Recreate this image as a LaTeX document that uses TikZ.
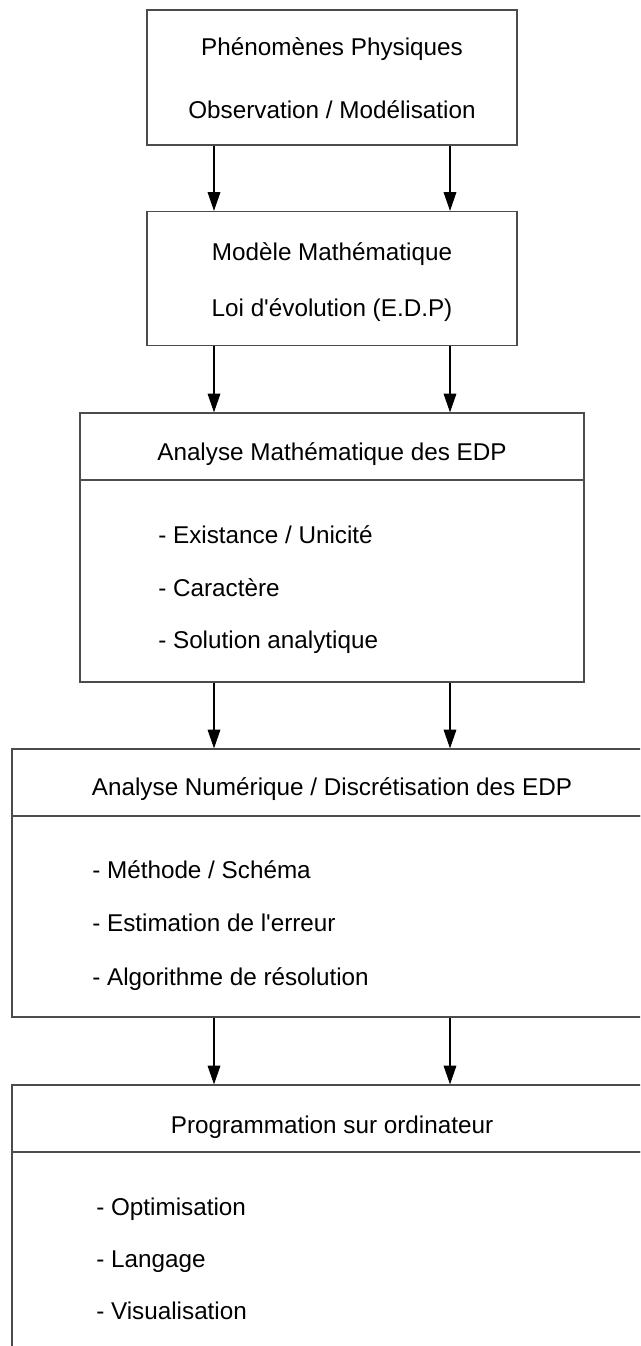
\documentclass[tikz,border=0pt]{standalone}
\usepackage{fontspec}
\setmainfont{Liberation Sans}
\usetikzlibrary{arrows.meta}

\begin{document}
\begin{tikzpicture}[x=0.75pt,y=-0.75pt,
	box/.style={rectangle,draw=black!70,line width=1pt,inner sep=0pt},
	txt/.style={font=\fontsize{18.2}{22}\selectfont,inner sep=0pt},
	flow/.style={-{Triangle[length=14pt,width=9.5pt]},line width=0.8pt}]
	\useasboundingbox (0,0) rectangle (640,1346);
	\clip (0,0) rectangle (640,1346);
	\node[box,minimum width=277.5pt,minimum height=101.25pt] (PP) at (332,77.5) {};
	\node[txt,anchor=base] (PP1) at (332,55) {Phénomènes Physiques};
	\node[txt,anchor=base] (PP2) at (332,118) {Observation / Modélisation};
	\node[box,minimum width=277.5pt,minimum height=100.5pt] (MM) at (332,278.5) {};
	\node[txt,anchor=base] (MM1) at (332,260) {Modèle Mathématique};
	\node[txt,anchor=base] (MM2) at (332,316) {Loi d\textquotesingle évolution (E.D.P)};
	\node[box,minimum width=378pt,minimum height=50.25pt] (AMt) at (332,446.5) {};
	\node[box,minimum width=378pt,minimum height=151.5pt] (AM) at (332,581) {};
	\node[txt,anchor=base] (AM0) at (332,460) {Analyse Mathématique des EDP};
	\node[txt,anchor=base west] (AM1) at (158,543) {- Existance / Unicité};
	\node[txt,anchor=base west] (AM2) at (158,596) {- Caractère};
	\node[txt,anchor=base west] (AM3) at (158,648) {- Solution analytique};
	\node[box,minimum width=480pt,minimum height=50.25pt] (ANt) at (332,782.5) {};
	\node[box,minimum width=480pt,minimum height=150.75pt] (AN) at (332,916.5) {};
	\node[txt,anchor=base] (AN0) at (332,795) {Analyse Numérique / Discrétisation des EDP};
	\node[txt,anchor=base west] (AN1) at (92,878) {- Méthode / Schéma};
	\node[txt,anchor=base west] (AN2) at (92,931) {- Estimation de l\textquotesingle erreur};
	\node[txt,anchor=base west] (AN3) at (92,985) {- Algorithme de résolution};
	\node[box,minimum width=480pt,minimum height=50.25pt] (POt) at (332,1118.5) {};
	\node[box,minimum width=480pt,minimum height=163.5pt] (PO) at (332,1261) {};
	\node[txt,anchor=base] (PO0) at (332,1133) {Programmation sur ordinateur};
	\node[txt,anchor=base west] (PO1) at (96,1215) {- Optimisation};
	\node[txt,anchor=base west] (PO2) at (96,1267) {- Langage};
	\node[txt,anchor=base west] (PO3) at (96,1319) {- Visualisation};
	\draw[flow] ([xshift=-88.5pt]PP.south) -- ([xshift=-88.5pt]MM.north);
	\draw[flow] ([xshift=88.5pt]PP.south) -- ([xshift=88.5pt]MM.north);
	\draw[flow] ([xshift=-88.5pt]MM.south) -- ([xshift=-88.5pt]AMt.north);
	\draw[flow] ([xshift=88.5pt]MM.south) -- ([xshift=88.5pt]AMt.north);
	\draw[flow] ([xshift=-88.5pt]AM.south) -- ([xshift=-88.5pt]ANt.north);
	\draw[flow] ([xshift=88.5pt]AM.south) -- ([xshift=88.5pt]ANt.north);
	\draw[flow] ([xshift=-88.5pt]AN.south) -- ([xshift=-88.5pt]POt.north);
	\draw[flow] ([xshift=88.5pt]AN.south) -- ([xshift=88.5pt]POt.north);
\end{tikzpicture}
\end{document}
